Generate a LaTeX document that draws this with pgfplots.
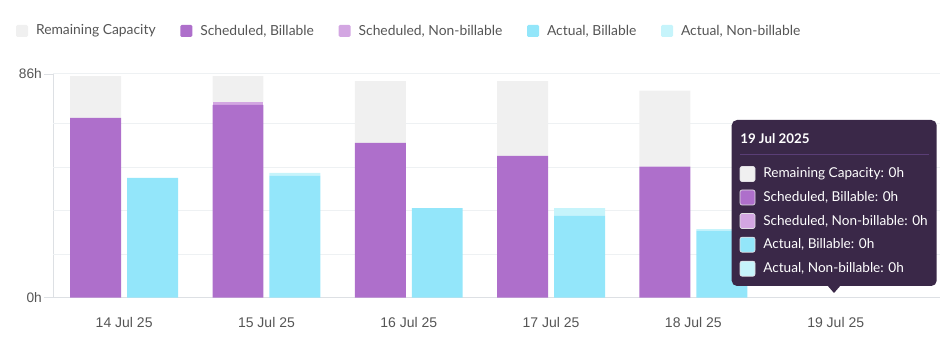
\documentclass[border=0pt]{standalone}
\usepackage{pgfplots}
\pgfplotsset{compat=1.18}
\usepackage{pgfplotstable}
\usepackage{fontspec}
\setmainfont{Lato}
\newfontfamily\arialf{Liberation Sans}
\definecolor{capgray}{HTML}{F0F0F0}
\definecolor{schedB}{HTML}{AE6FCB}
\definecolor{schedNB}{HTML}{D3A6E2}
\definecolor{actB}{HTML}{93E6FA}
\definecolor{actNB}{HTML}{C6F4FB}
\definecolor{gridc}{HTML}{EEF1F3}
\definecolor{axisc}{HTML}{DDE0E4}
\definecolor{txtgray}{HTML}{555555}
\definecolor{tipbg}{HTML}{3A2848}
\definecolor{tipsep}{HTML}{5A3E76}

\pgfplotstableread{
x   sb    snb  rem   ab    anb
0   69.1  0    16.1  46.0  0
1   74.1  1.0  10.1  46.9  1.1
2   59.5  0    23.7  34.4  0
3   54.5  0    28.7  31.5  2.9
4   50.4  0    29.2  25.8  0.5
5   0     0    0     0     0
}\data

\begin{document}
\begin{tikzpicture}
\useasboundingbox (0,0) rectangle (707.25pt,254.25pt);
\pgfplotsset{common/.style={
  scale only axis, width=665.25pt, height=167.8pt,
  at={(39.75pt,31pt)}, anchor=south west,
  xmin=-0.5, xmax=5.733, ymin=0, ymax=86}}
\begin{axis}[common,
  axis x line*=bottom, axis y line*=left,
  x axis line style={draw=axisc, line width=1pt, -},
  y axis line style={draw=axisc, line width=0.6pt, -},
  /pgf/number format/assume math mode=true,
  xtick={0,1,2,3,4,5},
  xticklabels={14 Jul 25,15 Jul 25,16 Jul 25,17 Jul 25,18 Jul 25,19 Jul 25},
  x tick style={draw=none},
  xticklabel style={font=\arialf\fontsize{10.5}{12}\selectfont, text=txtgray, inner sep=0pt, yshift=-7.5pt},
  ytick={0,86}, yticklabels={0h,86h},
  y tick style={draw=axisc, line width=0.6pt},
  tick align=outside, major tick length=7pt,
  yticklabel style={font=\arialf\fontsize{10.3}{12}\selectfont, text=txtgray, inner sep=1.2pt},
  ymajorgrids, grid style={draw=gridc, line width=0.8pt},
  extra y ticks={16.7,33.4,50.2,66.9}, extra y tick labels={},
  extra y tick style={major tick length=0pt, grid=major},
  legend columns=5,
  legend image code/.code={\fill[#1, rounded corners=1pt] (0pt,-4.5pt) rectangle (9pt,4.5pt);},
  legend style={draw=none, fill=none, inner sep=0pt, outer sep=0pt,
    at={(-0.0417,1.1922)}, anchor=west,
    font=\fontsize{10.4}{12}\selectfont, text=txtgray,
    nodes={inner sep=0pt},
    /tikz/every odd column/.append style={column sep=6pt},
    /tikz/every even column/.append style={column sep=18.5pt}},
]
\addlegendimage{fill=capgray, draw=none}
\addlegendentry{Remaining Capacity}
\addlegendimage{fill=schedB, draw=none}
\addlegendentry{Scheduled, Billable}
\addlegendimage{fill=schedNB, draw=none}
\addlegendentry{Scheduled, Non-billable}
\addlegendimage{fill=actB, draw=none}
\addlegendentry{Actual, Billable}
\addlegendimage{fill=actNB, draw=none}
\addlegendentry{Actual, Non-billable}
\end{axis}
\begin{axis}[common, hide axis, ybar stacked, bar width=0.358, bar shift=-0.2]
\addplot[fill=schedB, draw=none] table[x=x, y=sb]{\data};
\addplot[fill=schedNB, draw=none] table[x=x, y=snb]{\data};
\addplot[fill=capgray, draw=none] table[x=x, y=rem]{\data};
\end{axis}
\begin{axis}[common, hide axis, ybar stacked, bar width=0.358, bar shift=0.2]
\addplot[fill=actB, draw=none] table[x=x, y=ab]{\data};
\addplot[fill=actNB, draw=none] table[x=x, y=anb]{\data};
\end{axis}
% tooltip annotation
\begin{scope}[shift={(0pt,254.25pt)}, x=0.75pt, y=-0.75pt]
\fill[tipbg, rounded corners=4] (731.7,120) rectangle (936.7,286);
\fill[tipbg] (827,285) -- (834,293) -- (841,285) -- cycle;
\draw[tipsep, line width=0.8pt] (740,154.3) -- (928.7,154.3);
\node[anchor=west, inner sep=0pt, text=white, font=\bfseries\fontsize{10}{12}\selectfont] at (740,139) {19 Jul 2025};
\foreach \yy/\cc/\tt in {174/capgray/{Remaining Capacity: 0h}, 197.5/schedB/{Scheduled, Billable: 0h}, 221/schedNB/{Scheduled, Non-billable: 0h}, 244.7/actB/{Actual, Billable: 0h}, 268.7/actNB/{Actual, Non-billable: 0h}} {
  \draw[fill=\cc, draw=white!85!tipbg, line width=0.5pt, rounded corners=1.5] (740,\yy-7.5) rectangle (755,\yy+7.5);
  \node[anchor=west, inner sep=0pt, text=white, font=\fontsize{10.2}{12}\selectfont] at (763,\yy) {\tt};
}
\end{scope}
\end{tikzpicture}
\end{document}
